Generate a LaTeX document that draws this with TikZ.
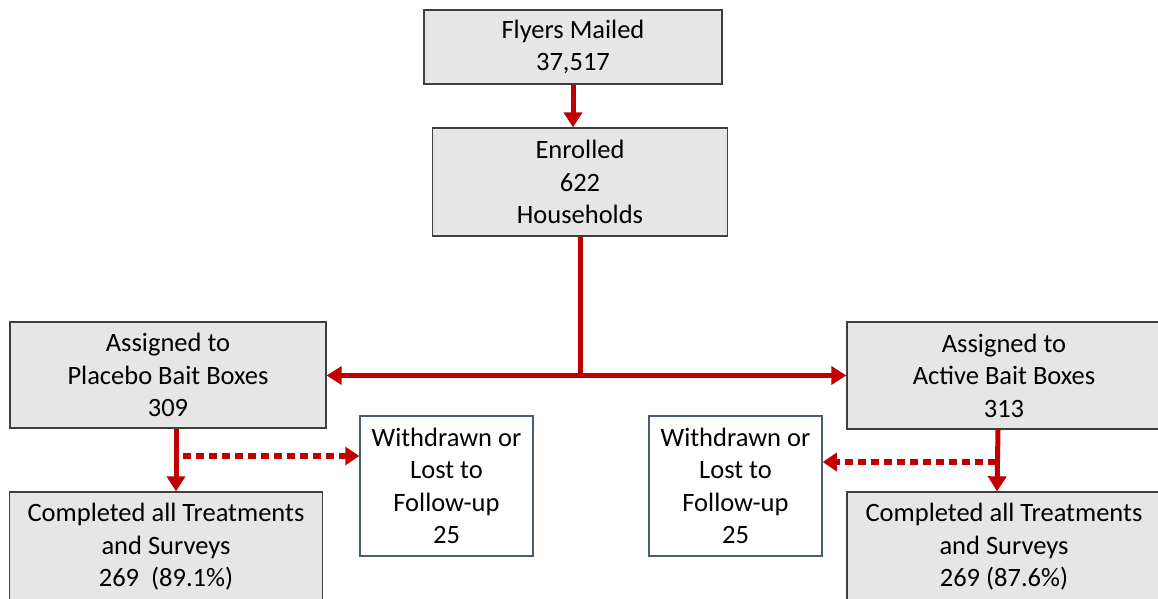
\documentclass[tikz,border=0pt]{standalone}
\usepackage{fontspec}
\setmainfont{Carlito}
\usetikzlibrary{arrows.meta}
\definecolor{boxfill}{HTML}{E6E6E6}
\definecolor{boxline}{HTML}{3F3F3F}
\definecolor{wline}{HTML}{4A5B7A}
\definecolor{arrred}{HTML}{C00000}
\begin{document}
\begin{tikzpicture}[x=1pt,y=-1pt,
  txt/.style={align=center,font=\fontsize{26.5}{32.5}\selectfont,inner sep=0pt},
  graybox/.style={txt,draw=boxline,fill=boxfill,line width=1.3pt},
  whitebox/.style={txt,draw=wline,fill=white,line width=1.5pt},
  flow/.style={draw=arrred,line width=5pt,-{Triangle[length=15pt,width=18pt]}},
  trunk/.style={draw=arrred,line width=5pt},
  lost/.style={draw=arrred,line width=5.5pt,dash pattern=on 8pt off 5pt,-{Triangle[length=14pt,width=18pt]}}]
\useasboundingbox (0,0) rectangle (1158,599);
\clip (0,0) rectangle (1158,599);
\fill[white] (0,0) rectangle (1158,599);
\node[graybox,minimum width=298pt,minimum height=74pt] (fly) at (573,47) {Flyers Mailed\\37,517};
\node[graybox,minimum width=295pt,minimum height=108pt] (enr) at (580,182) {Enrolled\\622\\Households};
\node[graybox,minimum width=316pt,minimum height=106pt] (plac) at (168,375) {Assigned to\\Placebo Bait Boxes\\309};
\node[graybox,minimum width=314pt,minimum height=107pt] (act) at (1004,375.5) {Assigned to\\Active Bait Boxes\\313};
\node[graybox,minimum width=313pt,minimum height=110pt] (cl) at (166,547) {Completed all Treatments\\and Surveys\\269~~(89.1\%)};
\node[graybox,minimum width=314pt,minimum height=110pt] (cr) at (1004,547) {Completed all Treatments\\and Surveys\\269 (87.6\%)};
\node[whitebox,minimum width=173pt,minimum height=140pt] (wl) at (446.5,486) {Withdrawn or\\Lost to\\Follow-up\\25};
\node[whitebox,minimum width=173pt,minimum height=140pt] (wr) at (735.5,486) {Withdrawn or\\Lost to\\Follow-up\\25};
\coordinate (split) at (580,375.5);
\coordinate (lstart) at (183,456);
\coordinate (rstart) at (996,462);
\draw[flow] (fly.south) -- (fly.south |- enr.north);
\draw[trunk] (enr.south) -- ([yshift=2.5pt]split);
\draw[flow] (split) -- (split -| plac.east);
\draw[flow] (split) -- (split -| act.west);
\draw[flow] ([xshift=8pt]plac.south) -- ([xshift=10pt]cl.north);
\draw[flow] ([xshift=-6pt]act.south) -- ([xshift=-7pt]cr.north);
\draw[lost] (lstart) -- (lstart -| wl.west);
\draw[lost] (rstart) -- (rstart -| wr.east);
\end{tikzpicture}
\end{document}
